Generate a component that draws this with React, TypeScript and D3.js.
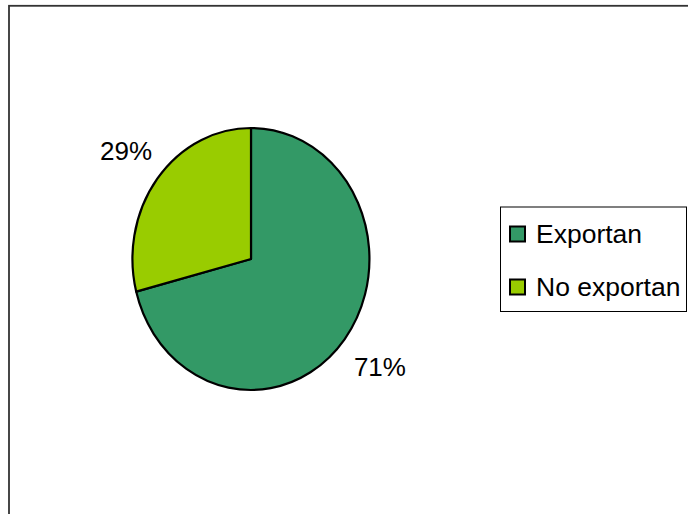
import React from "react";
import * as d3 from "d3";

const categories = ["Exportan", "No exportan"];
const values = [71, 29];
const labels = ["71%", "29%"];
const colors = ["#339966", "#99CC00"];

export default function App() {
  const W = 688;
  const H = 514;
  const cx = 251;
  const cy = 259;
  const rx = 118.5;
  const ry = 131;
  const pie = d3.pie<number>().sort(null).startAngle(0).endAngle(2 * Math.PI);
  const arcs = pie(values);
  const arc = d3.arc<d3.PieArcDatum<number>>().innerRadius(0).outerRadius(1);
  const labelK = 1.345;
  const labelDx = [3, 1];
  const font = "'Liberation Sans', Arial, sans-serif";

  return (
    <div style={{ position: "absolute", left: 0, top: 0 }}>
      <svg width={W} height={H} style={{ display: "block" }}>
        <rect x={0} y={0} width={W} height={H} fill="#ffffff" />
        <rect x={9} y={5.8} width={W + 20} height={H + 20} fill="none" stroke="#333333" strokeWidth={1.8} />
        <g transform={`translate(${cx},${cy}) scale(${rx},${ry})`}>
          {arcs.map((a, i) => (
            <path
              key={categories[i]}
              d={arc(a) || ""}
              fill={colors[i]}
              stroke="#000"
              strokeWidth={2.2}
              vectorEffect="non-scaling-stroke"
              strokeLinejoin="round"
            />
          ))}
        </g>
        {arcs.map((a, i) => {
          const mid = (a.startAngle + a.endAngle) / 2;
          const x = cx + Math.sin(mid) * rx * labelK + labelDx[i];
          const y = cy - Math.cos(mid) * ry * labelK;
          return (
            <text
              key={labels[i]}
              x={x}
              y={y}
              textAnchor="middle"
              dominantBaseline="central"
              fontFamily={font}
              fontSize={26}
              fill="#000"
            >
              {labels[i]}
            </text>
          );
        })}
        <rect x={500.5} y={207} width={186} height={104.5} fill="#fff" stroke="#000" strokeWidth={1} />
        {categories.map((c, i) => {
          const yc = 234 + i * 53;
          return (
            <g key={c}>
              <rect x={510} y={yc - 7.5} width={15} height={15} fill={colors[i]} stroke="#000" strokeWidth={2} />
              <text x={536} y={yc + 9} fontFamily={font} fontSize={26.5} fill="#000">
                {c}
              </text>
            </g>
          );
        })}
      </svg>
    </div>
  );
}
